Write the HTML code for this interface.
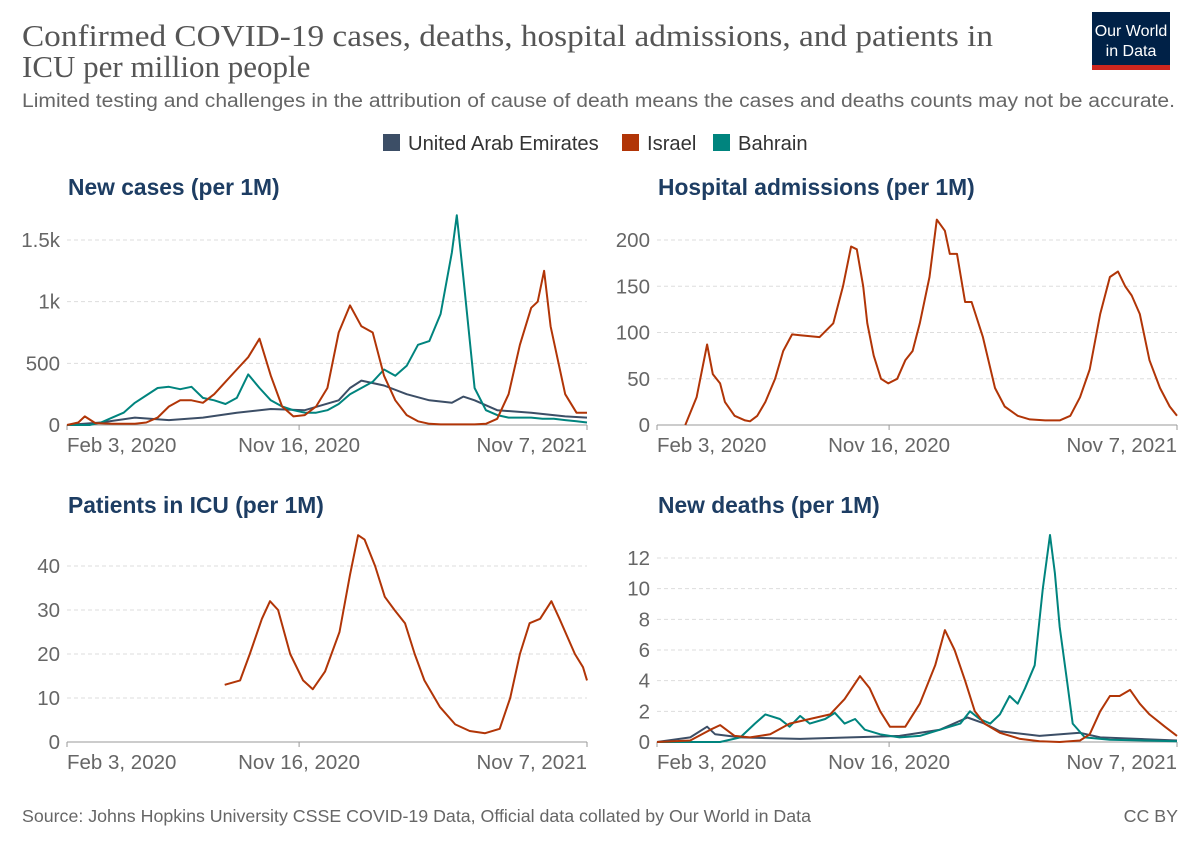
<!DOCTYPE html>
<html><head><meta charset="utf-8">
<style>
body{margin:0;background:#fff;width:1200px;height:847px;overflow:hidden;font-family:"Liberation Sans",sans-serif}
svg{display:block}
</style></head>
<body>
<svg id="chart" width="1200" height="847">
<text x="22" y="46" font-family="Liberation Serif,serif" font-size="27" fill="#555" textLength="971" lengthAdjust="spacingAndGlyphs" style="font-size:31px">Confirmed COVID-19 cases, deaths, hospital admissions, and patients in</text>
<text x="22" y="77" font-family="Liberation Serif,serif" fill="#555" style="font-size:31px">ICU per million people</text>
<text x="22" y="107" fill="#666" textLength="1153" lengthAdjust="spacingAndGlyphs" style="font-size:19px">Limited testing and challenges in the attribution of cause of death means the cases and deaths counts may not be accurate.</text>
<g>
<rect x="1092" y="12" width="78" height="58" fill="#002147"/>
<rect x="1092" y="65" width="78" height="5" fill="#ce261e"/>
<text x="1131" y="36" font-size="16" fill="#fff" text-anchor="middle">Our World</text>
<text x="1131" y="56" font-size="16" fill="#fff" text-anchor="middle">in Data</text>
</g>
<g>
<g><rect x="383" y="134" width="17" height="17" fill="#3c4e66"/><text x="408" y="150" font-size="20.2" fill="#333">United Arab Emirates</text></g>
<g><rect x="622" y="134" width="17" height="17" fill="#b13507"/><text x="647" y="150" font-size="20.2" fill="#333">Israel</text></g>
<g><rect x="713" y="134" width="17" height="17" fill="#00847e"/><text x="738" y="150" font-size="20.2" fill="#333">Bahrain</text></g>
</g>
<text x="22" y="822" font-size="17.8" fill="#666">Source: Johns Hopkins University CSSE COVID-19 Data, Official data collated by Our World in Data</text>
<text x="1178" y="822" font-size="17.8" fill="#666" text-anchor="end">CC BY</text>
</svg>
<script>
// x domain: days since Feb 3, 2020
const xTickLabels = ["Feb 3, 2020","Nov 16, 2020","Nov 7, 2021"];
const xTickDays = [0,287,643];
// New cases
const casesIsraelDays=[0,14,22,35,56,70,84,98,112,126,140,154,168,182,196,210,224,238,252,266,280,294,308,322,336,350,364,378,392,406,420,434,448,462,476,490,504,518,532,546,560,574,582,590,598,616,630,643];
const casesIsrael=[0,20,70,15,10,10,10,20,60,150,200,200,180,250,350,450,550,700,400,150,70,80,150,300,750,970,800,750,400,200,80,30,10,5,5,5,5,10,50,250,650,950,1000,1250,800,250,100,100];
const casesBahrainDays=[0,14,28,42,56,70,84,98,112,126,140,154,168,182,196,210,224,238,252,266,280,294,308,322,336,350,364,378,392,406,420,434,448,462,476,482,490,504,518,532,546,560,574,588,602,616,630,643];
const casesBahrain=[0,0,0,20,60,100,180,240,300,310,290,310,220,200,170,220,410,300,200,150,120,100,100,120,170,250,300,350,450,400,480,650,680,900,1400,1700,1200,300,120,80,60,60,60,50,50,40,30,20];
const casesUAEDays=[0,42,84,126,168,210,252,294,336,350,364,392,420,448,476,490,504,532,574,616,643];
const casesUAE=[0,20,60,40,60,100,130,120,200,300,360,320,250,200,180,230,200,120,100,70,60];
const casesTicks=[0,500,1000,1500]; const casesTickLabels=["0","500","1k","1.5k"];
// Hospital admissions
const hospDays=[35,49,62,69,78,84,96,109,115,124,134,146,156,167,177,201,218,230,240,247,255,260,268,277,286,297,307,316,325,337,346,356,362,371,381,389,403,418,430,446,461,480,498,511,523,535,548,560,570,579,587,597,609,622,634,643];
const hospIsrael=[0,30,87,55,45,25,10,5,4,10,25,50,80,98,97,95,110,150,193,190,150,110,75,50,45,50,70,80,110,160,222,210,185,185,133,133,95,40,20,10,6,5,5,10,30,60,120,160,166,150,140,120,70,40,20,10];
const hospTicks=[0,50,100,150,200];
// ICU
const icuDays=[195,214,226,241,251,261,276,292,304,319,337,350,360,368,381,393,405,418,430,442,461,480,498,517,535,548,560,572,585,599,609,628,638,643];
const icuIsrael=[13,14,20,28,32,30,20,14,12,16,25,38,47,46,40,33,30,27,20,14,8,4,2.5,2,3,10,20,27,28,32,28,20,17,14];
const icuTicks=[0,10,20,30,40];
// Deaths
const deathsIsraelDays=[0,41,66,78,96,115,140,164,189,214,232,251,263,276,288,307,325,344,356,368,381,393,405,424,449,473,498,523,535,548,560,572,585,597,609,628,643];
const deathsIsrael=[0,0.1,0.8,1.1,0.4,0.3,0.5,1.2,1.5,1.8,2.8,4.3,3.5,2,1,1,2.5,5,7.3,6,4,2,1.2,0.6,0.2,0.05,0,0.1,0.5,2,3,3,3.4,2.5,1.8,1,0.4];
const deathsBahrainDays=[0,78,103,121,134,152,164,177,189,208,220,232,245,257,276,300,325,350,375,387,399,412,424,436,446,455,467,477,486,492,498,507,514,529,560,643];
const deathsBahrain=[0,0,0.3,1.2,1.8,1.5,1.0,1.7,1.2,1.5,1.9,1.2,1.5,0.8,0.5,0.3,0.4,0.8,1.2,2.0,1.5,1.2,1.8,3.0,2.5,3.5,5,10,13.5,11,7.5,4,1.2,0.3,0.15,0.05];
const deathsUAEDays=[0,41,62,72,103,177,239,300,350,384,405,424,473,523,548,643];
const deathsUAE=[0,0.3,1,0.5,0.3,0.2,0.3,0.4,0.8,1.6,1.2,0.7,0.4,0.6,0.3,0.1];
const deathsTicks=[0,2,4,6,8,10,12];

const NS="http://www.w3.org/2000/svg";
const svg=document.getElementById('chart');
function mk(tag,attrs,parent){const e=document.createElementNS(NS,tag);for(const k in attrs)e.setAttribute(k,attrs[k]);(parent||svg).appendChild(e);return e;}
const COL={uae:"#3c4e66",israel:"#b13507",bahrain:"#00847e"};
function panel(name,title,titleY,x0,yBase,yTopPx,yMax,ticks,tickLabels,series){
  const g=mk('g',{});
  
  
  const x1=x0+520;
  const xs=d=>x0+d*520/643;
  const ys=v=>yBase-(v/yMax)*(yBase-yTopPx);
  const t=mk('text',{x:x0+1,y:titleY,'font-size':22.8,'font-weight':'bold',fill:'#1d3d63'},g);
  t.textContent=title;
  
  
  ticks.forEach((v,i)=>{
    const y=ys(v);
    if(i>0){const l=mk('line',{x1:x0,x2:x1,y1:y,y2:y,stroke:'#ddd','stroke-dasharray':'4,3'},g);
      
      }
    const tl=mk('text',{x:x0-7,y:y+7,'font-size':20.5,fill:'#666','text-anchor':'end'},g);
    tl.textContent=tickLabels?tickLabels[i]:String(v);
    
    
  });
  const ax=mk('line',{x1:x0,x2:x1,y1:yBase,y2:yBase,stroke:'#999'},g);
  
  
  xTickDays.forEach((d,i)=>{
    const x=xs(d);
    mk('line',{x1:x,x2:x,y1:yBase,y2:yBase+5,stroke:'#999'},g);
    const anchor=i==0?'start':(i==xTickDays.length-1?'end':'middle');
    const tl=mk('text',{x:x,y:yBase+27,'font-size':20.5,fill:'#666','text-anchor':anchor},g);
    tl.textContent=xTickLabels[i];
    
    
  });
  series.forEach(s=>{
    const p=s.days.map((d,i)=>xs(d).toFixed(1)+','+ys(s.vals[i]).toFixed(1)).join(' ');
    const pl=mk('polyline',{points:p,fill:'none',stroke:COL[s.c],'stroke-width':2,'stroke-linejoin':'round'},g);
    
    
  });
}
panel('new-cases','New cases (per 1M)',195,67,425,240,1500,casesTicks,casesTickLabels,[
 {days:casesUAEDays,vals:casesUAE,c:'uae'},{days:casesBahrainDays,vals:casesBahrain,c:'bahrain'},{days:casesIsraelDays,vals:casesIsrael,c:'israel'}]);
panel('hospital-admissions','Hospital admissions (per 1M)',195,657,425,240,200,hospTicks,null,[{days:hospDays,vals:hospIsrael,c:'israel'}]);
panel('icu-patients','Patients in ICU (per 1M)',513,67,742,566,40,icuTicks,null,[{days:icuDays,vals:icuIsrael,c:'israel'}]);
panel('new-deaths','New deaths (per 1M)',513,657,742,558,12,deathsTicks,null,[
 {days:deathsUAEDays,vals:deathsUAE,c:'uae'},{days:deathsBahrainDays,vals:deathsBahrain,c:'bahrain'},{days:deathsIsraelDays,vals:deathsIsrael,c:'israel'}]);
</script>
</body></html>
